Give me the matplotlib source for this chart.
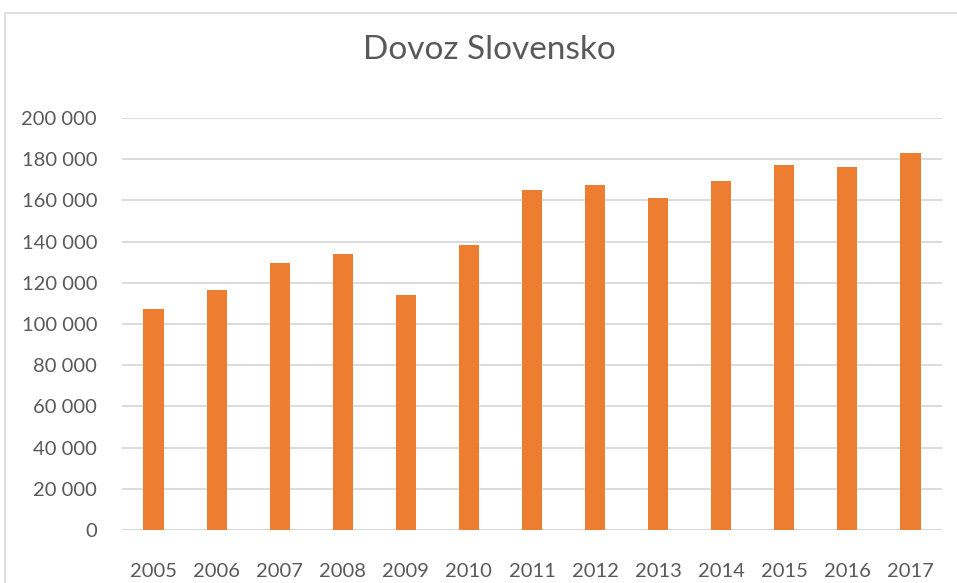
import matplotlib.pyplot as plt
from matplotlib.patches import Rectangle

years = ['2005', '2006', '2007', '2008', '2009', '2010', '2011',
         '2012', '2013', '2014', '2015', '2016', '2017']
dovoz = [107300, 116500, 129600, 134000, 114000, 138300, 165000,
         167500, 161200, 169400, 177200, 176200, 183000]
yticks = list(range(0, 200001, 20000))
ylabels = ['0' if v == 0 else '{:,}'.format(v).replace(',', ' ') for v in yticks]

plt.rcParams['font.family'] = ['Lato', 'DejaVu Sans']
txt = '#595959'

fig = plt.figure(figsize=(9.57, 5.83), dpi=100)
W, H = 957, 583
# outer chart border (cropped on right/bottom)
fig.patches.append(Rectangle((5 / W, -0.1), 1.2, 1.1 - 13 / H, transform=fig.transFigure,
                             fill=False, edgecolor='#d9d9d9', linewidth=1.2))

ax = fig.add_axes([122 / W, 1 - 530 / H, (942 - 122) / W, (530 - 118) / H])
x = range(len(years))
ax.bar(x, dovoz, width=0.32, color='#ED7D31', zorder=3)
ax.set_xlim(-0.5, len(years) - 0.5)
ax.set_ylim(0, 200000)
ax.set_yticks(yticks)
ax.set_yticklabels(ylabels, color=txt, fontsize=14.5)
ax.set_xticks(list(x))
ax.set_xticklabels(years, color=txt, fontsize=14.5)
ax.tick_params(axis='y', length=0, pad=18)
ax.tick_params(axis='x', length=0, pad=24)
ax.grid(axis='y', color='#d9d9d9', linewidth=1.3, zorder=0)
for s in ax.spines.values():
    s.set_visible(False)
ax.axhline(0, color='#d9d9d9', linewidth=1.3, zorder=1)

fig.text(489 / W, 1 - 50 / H, 'Dovoz Slovensko', ha='center', va='center',
         fontsize=24, color=txt)

fig.savefig('out.png', dpi=100)
